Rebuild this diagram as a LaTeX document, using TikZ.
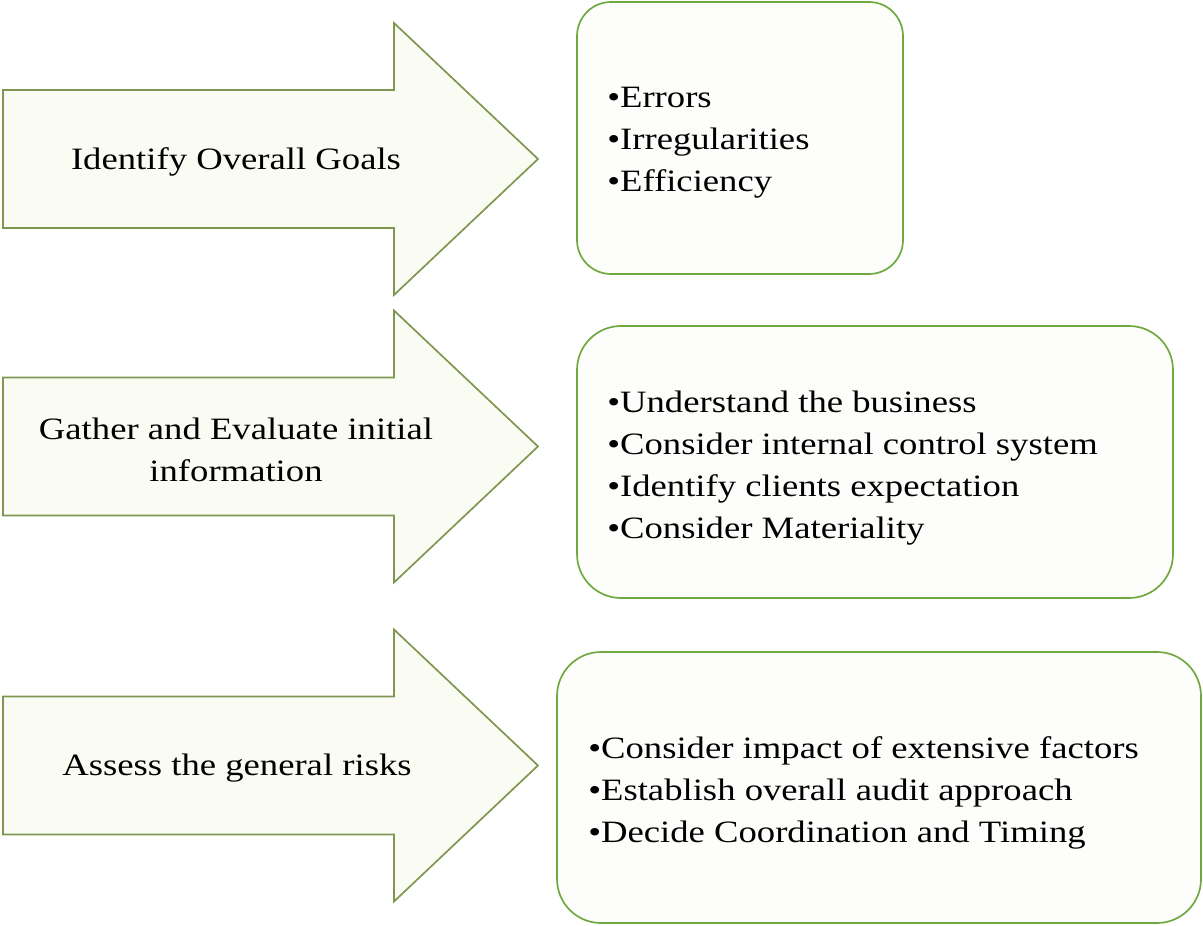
\documentclass[tikz,border=0pt]{standalone}
\usepackage{fontspec}
\setmainfont{Liberation Serif}[FakeStretch=1.18]
\definecolor{arrowline}{RGB}{128,150,80}
\definecolor{arrowfill}{RGB}{250,252,244}
\definecolor{boxline}{RGB}{112,168,64}
\definecolor{boxfill}{RGB}{253,254,251}
\begin{document}
\begin{tikzpicture}[x=0.025cm, y=-0.025cm,
	    stepshape/.style={draw=arrowline, line width=1.2pt, fill=arrowfill, line join=miter},
	    listbox/.style={draw=boxline, line width=1.2pt, fill=boxfill},
	    steptext/.style={align=center, inner sep=0pt, font=\fontsize{22.1}{29.9}\selectfont},
	    listtext/.style={align=left, anchor=west, inner sep=0pt, font=\fontsize{22.1}{29.9}\selectfont}]
	    \useasboundingbox (0,0) rectangle (1203,926);

	    % the three step arrows
	    \foreach \c in {159, 446.5, 765.5}
	        \draw[stepshape] (3,\c-69) -- (394,\c-69) -- (394,\c-136) -- (538,\c)
	            -- (394,\c+136) -- (394,\c+69) -- (3,\c+69) -- cycle;

	    \draw[listbox, rounded corners=0.85cm] (577,2) rectangle (903,274);
	    \draw[listbox, rounded corners=1.1cm] (577,326) rectangle (1173,598);
	    \draw[listbox, rounded corners=1.1cm] (557,652) rectangle (1201,923);

	    \node[steptext] (goals) at (236,162) {Identify Overall Goals};
	    \node[steptext] (gather) at (236,449.5) {Gather and Evaluate initial\\information};
	    \node[steptext] (risks) at (237,768.5) {Assess the general risks};

	    \node[listtext] (goallist) at (607,143) {•Errors\\•Irregularities\\•Efficiency};
	    \node[listtext] (gatherlist) at (607,468) {•Understand the business\\•Consider internal control system\\•Identify clients expectation\\•Consider Materiality};
	    \node[listtext] (risklist) at (588,793) {•Consider impact of extensive factors\\•Establish overall audit approach\\•Decide Coordination and Timing};
\end{tikzpicture}
\end{document}
